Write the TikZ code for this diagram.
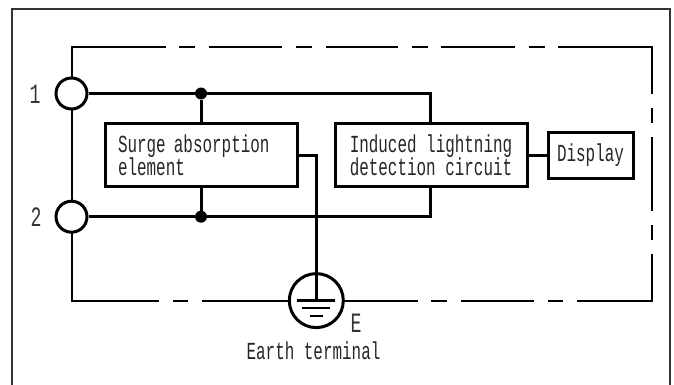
\documentclass[tikz,border=0pt]{standalone}
\usepackage{fontspec}
\newfontfamily\diagfont[FakeStretch=0.65]{Liberation Mono}
\newcommand{\lbl}{\fontsize{24.5}{23}\diagfont}
\newcommand{\lblbig}{\fontsize{28}{28}\diagfont}
\tikzset{
  wire/.style={line width=3pt,black},
  thin wire/.style={line width=2pt,black},
  blockbox/.style={draw=black,line width=3pt,fill=white,inner sep=0pt,font=\lbl,align=left,text=black!85},
  terminal/.style={circle,draw=black,line width=3pt,fill=white,minimum size=31pt,inner sep=0pt},
  junction/.style={circle,fill=black,minimum size=12pt,inner sep=0pt},
  tag/.style={font=\lblbig,text=black!80,inner sep=0pt},
  caption/.style={font=\lbl,text=black!85,inner sep=0pt}
}
\begin{document}
\begin{tikzpicture}[x=1pt,y=-1pt]
\useasboundingbox (0,0) rectangle (674,385);
% outer frame (open at the bottom)
\draw[line width=1.2pt,black!80] (12,385) -- (12,9) -- (670,9) -- (670,385);
% dashed enclosure
\coordinate (tl) at (71.5,47.5);
\coordinate (tr) at (652,47.5);
\coordinate (br) at (652,300.7);
\coordinate (bl) at (71.5,300.7);
\coordinate (t1a) at (71.5,93.5);
\coordinate (t2a) at (71.5,216.7);
\draw[thin wire] (t1a) -- (tl) -- (166,47.5);
\foreach \a/\b in {179/195,209/282,296/312,326/398,412/428,441/515,529/545}
  \draw[thin wire] (\a,47.5) -- (\b,47.5);
\draw[thin wire] (558,47.5) -- (tr) -- (652,94);
\foreach \a/\b in {108/123,137/211,225/240}
  \draw[thin wire] (652,\a) -- (652,\b);
\draw[thin wire] (652,254) -- (br) -- (577,300.7);
\foreach \a/\b in {173/188,202/289,344/418,431/447,461/534,548/563}
  \draw[thin wire] (\a,300.7) -- (\b,300.7);
\draw[thin wire] (t1a) -- (t2a) -- (bl) -- (159,300.7);
% blocks
\node[blockbox,minimum width=192pt,minimum height=62pt,text width=166pt] (surge) at (201,155) {Surge absorption\\element};
\node[blockbox,minimum width=192pt,minimum height=62pt,align=center] (detect) at (431,155) {Induced lightning\\detection circuit};
\node[blockbox,minimum width=85pt,minimum height=46pt,align=center] (display) at (590.5,155) {Display};
% terminals and junctions
\node[terminal] (t1) at (71.5,93.5) {};
\node[terminal] (t2) at (71.5,216.7) {};
\node[junction] (j1) at (201,93.5) {};
\node[junction] (j2) at (201,216.7) {};
\coordinate (c1) at (430.7,93.5);
\coordinate (c2) at (430.7,216.7);
% earth symbol
\node[circle,draw=black,line width=3pt,fill=white,minimum size=54pt,inner sep=0pt] (earth) at (316.3,300.6) {};
\coordinate (gc) at (316.3,155);
% wiring
\draw[wire] (t1) -- (j1) -- (c1) -- (c1 |- detect.north);
\draw[wire] (t2) -- (j2) -- (c2) -- (c2 |- detect.south);
\draw[wire] (j1) -- (surge.north -| j1);
\draw[wire] (j2) -- (surge.south -| j2);
\draw[wire] (surge.east |- gc) -- (gc) -- (earth.center);
\draw[wire] (detect.east) -- (display.west);
\draw[line width=2.6pt] (297,300.7) -- (335,300.7);
\draw[line width=2.6pt] (302,308) -- (330,308);
\draw[line width=2.6pt] (309.5,316) -- (322.5,316);
% labels
\node[tag] (n1) at (35,94) {1};
\node[tag] (n2) at (36,217) {2};
\node[tag] (nE) at (356,323) {E};
\node[caption] (cap) at (313.5,351) {Earth terminal};
\end{tikzpicture}
\end{document}
